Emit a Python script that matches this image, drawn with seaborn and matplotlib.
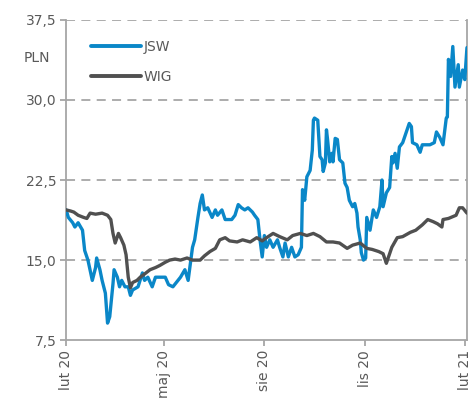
import matplotlib
matplotlib.use('Agg')
import matplotlib.pyplot as plt
import matplotlib.dates as mdates
import matplotlib.ticker as mticker
import pandas as pd
import seaborn as sns

JSW_COLOR = '#0a87c8'
WIG_COLOR = '#505050'
TEXT_COLOR = '#595959'
AXIS_COLOR = '#a6a6a6'

jsw_dates = [
    '2020-02-01', '2020-02-03', '2020-02-07', '2020-02-09', '2020-02-12', '2020-02-16',
    '2020-02-18', '2020-02-21', '2020-02-25', '2020-02-28', '2020-02-29', '2020-03-03',
    '2020-03-05', '2020-03-08', '2020-03-10', '2020-03-12', '2020-03-15', '2020-03-16',
    '2020-03-19', '2020-03-21', '2020-03-23', '2020-03-26', '2020-03-29', '2020-03-31',
    '2020-04-02', '2020-04-07', '2020-04-11', '2020-04-13', '2020-04-16', '2020-04-20',
    '2020-04-23', '2020-04-27', '2020-05-02', '2020-05-05', '2020-05-09', '2020-05-16',
    '2020-05-20', '2020-05-23', '2020-05-27', '2020-05-29', '2020-06-01', '2020-06-03',
    '2020-06-05', '2020-06-07', '2020-06-10', '2020-06-14', '2020-06-17', '2020-06-19',
    '2020-06-23', '2020-06-26', '2020-07-02', '2020-07-05', '2020-07-08', '2020-07-11',
    '2020-07-14', '2020-07-17', '2020-07-21', '2020-07-23', '2020-07-26', '2020-07-28',
    '2020-07-30', '2020-08-01', '2020-08-03', '2020-08-06', '2020-08-09', '2020-08-13',
    '2020-08-15', '2020-08-18', '2020-08-20', '2020-08-23', '2020-08-26', '2020-08-29',
    '2020-09-01', '2020-09-04', '2020-09-05', '2020-09-07', '2020-09-09', '2020-09-12',
    '2020-09-14', '2020-09-15', '2020-09-16', '2020-09-19', '2020-09-21', '2020-09-23',
    '2020-09-24', '2020-09-26', '2020-09-27', '2020-09-28', '2020-09-30', '2020-10-02',
    '2020-10-03', '2020-10-05', '2020-10-07', '2020-10-08', '2020-10-09', '2020-10-12',
    '2020-10-14', '2020-10-16', '2020-10-18', '2020-10-21', '2020-10-23', '2020-10-25',
    '2020-10-26', '2020-10-28', '2020-10-29', '2020-10-31', '2020-11-02', '2020-11-03',
    '2020-11-06', '2020-11-09', '2020-11-12', '2020-11-15', '2020-11-17', '2020-11-18',
    '2020-11-21', '2020-11-24', '2020-11-26', '2020-11-27', '2020-11-29', '2020-12-01',
    '2020-12-03', '2020-12-06', '2020-12-10', '2020-12-12', '2020-12-14', '2020-12-15',
    '2020-12-19', '2020-12-22', '2020-12-24', '2020-12-31', '2021-01-04', '2021-01-06',
    '2021-01-09', '2021-01-12', '2021-01-15', '2021-01-16', '2021-01-17', '2021-01-19',
    '2021-01-21', '2021-01-23', '2021-01-26', '2021-01-27', '2021-01-30', '2021-02-01',
    '2021-02-03',
]
jsw_values = [
    19.7, 19.0, 18.5, 18.1, 18.5, 17.8,
    15.9, 15.0, 13.1, 14.3, 15.2, 14.1,
    13.1, 11.9, 9.1, 9.7, 12.8, 14.1,
    13.4, 12.5, 13.1, 12.5, 12.5, 11.7,
    12.2, 12.5, 13.8, 13.1, 13.4, 12.5,
    13.4, 13.4, 13.4, 12.7, 12.5, 13.4,
    14.1, 13.1, 16.2, 16.9, 19.0, 20.3,
    21.1, 19.7, 19.9, 19.0, 19.7, 19.2,
    19.7, 18.8, 18.8, 19.2, 20.2, 19.9,
    19.7, 19.9, 19.5, 19.2, 18.8, 16.9,
    15.3, 17.3, 16.2, 16.9, 16.2, 16.9,
    16.2, 15.3, 16.6, 15.3, 16.2, 15.3,
    15.5, 16.2, 21.6, 20.6, 22.8, 23.4,
    25.3, 28.1, 28.3, 28.1, 24.7, 24.4,
    23.3, 24.1, 27.2, 26.3, 24.2, 25.0,
    24.2, 26.4, 26.3, 25.3, 24.4, 24.1,
    22.2, 21.8, 20.6, 20.0, 20.3, 19.4,
    18.1, 16.9, 15.7, 15.0, 15.2, 19.0,
    17.8, 19.7, 19.0, 20.0, 22.5, 20.0,
    21.3, 21.8, 24.7, 24.1, 25.0, 23.6,
    25.6, 26.0, 27.2, 27.8, 27.5, 26.0,
    25.8, 25.1, 25.8, 25.8, 26.0, 27.0,
    26.5, 25.8, 28.3, 28.4, 33.8, 32.2,
    35.0, 31.2, 33.3, 31.2, 32.8, 31.9,
    34.9,
]

wig_dates = [
    '2020-02-01', '2020-02-05', '2020-02-08', '2020-02-12', '2020-02-17', '2020-02-20',
    '2020-02-23', '2020-02-28', '2020-03-05', '2020-03-10', '2020-03-13', '2020-03-15',
    '2020-03-17', '2020-03-20', '2020-03-22', '2020-03-25', '2020-03-27', '2020-03-29',
    '2020-03-31', '2020-04-02', '2020-04-06', '2020-04-09', '2020-04-13', '2020-04-18',
    '2020-04-23', '2020-04-27', '2020-05-02', '2020-05-06', '2020-05-11', '2020-05-16',
    '2020-05-22', '2020-05-27', '2020-06-03', '2020-06-07', '2020-06-12', '2020-06-17',
    '2020-06-21', '2020-06-26', '2020-06-30', '2020-07-07', '2020-07-12', '2020-07-19',
    '2020-07-25', '2020-07-30', '2020-08-03', '2020-08-09', '2020-08-15', '2020-08-22',
    '2020-08-27', '2020-09-03', '2020-09-09', '2020-09-15', '2020-09-21', '2020-09-27',
    '2020-10-03', '2020-10-09', '2020-10-16', '2020-10-21', '2020-10-28', '2020-11-03',
    '2020-11-08', '2020-11-14', '2020-11-18', '2020-11-21', '2020-11-22', '2020-11-26',
    '2020-12-01', '2020-12-06', '2020-12-13', '2020-12-18', '2020-12-24', '2020-12-29',
    '2021-01-03', '2021-01-07', '2021-01-11', '2021-01-12', '2021-01-17', '2021-01-24',
    '2021-01-27', '2021-01-30', '2021-02-03',
]
wig_values = [
    19.7, 19.6, 19.5, 19.2, 19.0, 18.9,
    19.4, 19.3, 19.4, 19.2, 18.8, 17.5,
    16.6, 17.5, 17.1, 16.4, 15.5, 13.4,
    12.4, 12.9, 13.1, 13.4, 13.7, 14.1,
    14.3, 14.5, 14.8, 15.0, 15.1, 15.0,
    15.2, 15.0, 15.0, 15.4, 15.8, 16.1,
    16.9, 17.1, 16.8, 16.7, 16.9, 16.7,
    17.1, 16.8, 17.1, 17.5, 17.2, 16.9,
    17.3, 17.5, 17.3, 17.5, 17.2, 16.7,
    16.7, 16.6, 16.1, 16.4, 16.6, 16.1,
    16.0, 15.8, 15.6, 14.7, 15.0, 16.2,
    17.1, 17.2, 17.6, 17.8, 18.3, 18.8,
    18.6, 18.4, 18.1, 18.8, 18.9, 19.2,
    19.9, 19.9, 19.4,
]

tick_dates = ['2020-02-01', '2020-05-01', '2020-08-01', '2020-11-01', '2021-02-01']
tick_labels = ['lut 20', 'maj 20', 'sie 20', 'lis 20', 'lut 21']
y_ticks = [7.5, 15.0, 22.5, 30.0, 37.5]

sns.set_style('white')
plt.rcParams['font.family'] = ['DejaVu Sans']

df = pd.concat([
    pd.DataFrame({'data': pd.to_datetime(jsw_dates), 'kurs': jsw_values, 'seria': 'JSW'}),
    pd.DataFrame({'data': pd.to_datetime(wig_dates), 'kurs': wig_values, 'seria': 'WIG'}),
])

fig = plt.figure(figsize=(4.76, 4.05), dpi=100)
ax = fig.add_axes([0.139, 0.160, 0.842, 0.791])

sns.lineplot(data=df, x='data', y='kurs', hue='seria',
             palette={'JSW': JSW_COLOR, 'WIG': WIG_COLOR},
             linewidth=2.4, ax=ax, zorder=3)
for line in ax.get_lines():
    line.set_solid_joinstyle('round')

ax.set_ylim(7.5, 37.5)
ax.set_xlim(pd.Timestamp('2020-02-01'), pd.Timestamp('2021-02-03'))
ax.yaxis.set_major_locator(mticker.FixedLocator(y_ticks))
ax.yaxis.set_major_formatter(
    mticker.FuncFormatter(lambda v, p: f'{v:.1f}'.replace('.', ',')))
ax.xaxis.set_major_locator(mticker.FixedLocator(mdates.date2num(pd.to_datetime(tick_dates))))
ax.set_xticklabels(tick_labels, rotation=90)

for v in y_ticks[1:]:
    ax.axhline(v, color=AXIS_COLOR, lw=1.3, ls=(0, (5, 3.5)), zorder=1)

ax.spines['top'].set_visible(False)
for s in ['left', 'right', 'bottom']:
    ax.spines[s].set_color(AXIS_COLOR)
    ax.spines[s].set_linewidth(1.3)

ax.tick_params(axis='both', which='major', direction='out', length=4,
               width=1.3, color=AXIS_COLOR, labelsize=10, labelcolor=TEXT_COLOR, pad=3,
               left=True, bottom=True)
ax.set_xlabel('')
ax.set_ylabel('')

ax.text(-0.072, 0.88, 'PLN', transform=ax.transAxes, ha='center', va='center',
        fontsize=10, color=TEXT_COLOR)

leg = ax.legend(loc='upper left', bbox_to_anchor=(0.03, 0.975), frameon=False,
                handlelength=3.6, handletextpad=0.2, labelspacing=1.1, fontsize=10)
for t in leg.get_texts():
    t.set_color(TEXT_COLOR)
for h in leg.get_lines():
    h.set_linewidth(2.8)

fig.savefig('out.png', dpi=100, facecolor='white')
